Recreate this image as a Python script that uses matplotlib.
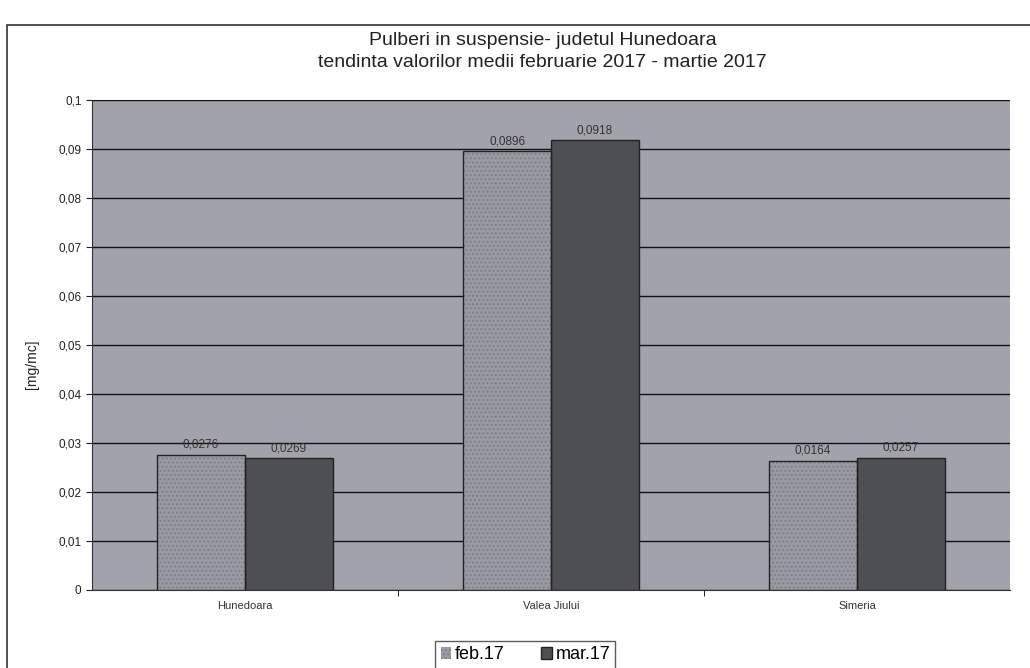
import matplotlib
matplotlib.use('Agg')
import matplotlib.pyplot as plt
import matplotlib.patches as patches
from matplotlib.ticker import FuncFormatter, MultipleLocator
import numpy as np

plt.rcParams['font.family'] = ['Liberation Sans', 'DejaVu Sans']

categories = ['Hunedoara', 'Valea Jiului', 'Simeria']
feb = [0.0276, 0.0896, 0.0264]
mar = [0.0269, 0.0918, 0.0270]
feb_labels = ['0,0276', '0,0896', '0,0164']
mar_labels = ['0,0269', '0,0918', '0,0257']
series_names = ['feb.17', 'mar.17']

fig = plt.figure(figsize=(10.3, 6.68), dpi=100)
ax = fig.add_axes([0.0893, 0.1168, 0.8913, 0.7335])

# outer chart frame
fig.patches.append(patches.Rectangle((0.0068, -0.01), 1.1, 0.9726, transform=fig.transFigure,
                                     fill=False, edgecolor='#333333', linewidth=1.2))

ax.set_facecolor('#a2a2ac')
x = np.arange(len(categories))
w = 0.287
# feb: dotted texture, then outline
ax.bar(x - w / 2, feb, w, color='#9a9aa4', edgecolor='#80808a', linewidth=0, zorder=3,
       hatch='....', label=series_names[0])
ax.bar(x - w / 2, feb, w, fill=False, edgecolor='#222222', linewidth=1, zorder=3.5)
ax.bar(x + w / 2, mar, w, color='#4e4e55', edgecolor='#222222', linewidth=1, zorder=3,
       label=series_names[1])

for i in range(len(categories)):
    ax.text(x[i] - w / 2, feb[i] + 0.0008, feb_labels[i], ha='center', va='bottom', fontsize=8.5, color='#333333', zorder=4)
    ax.text(x[i] + w / 2, mar[i] + 0.0008, mar_labels[i], ha='center', va='bottom', fontsize=8.5, color='#333333', zorder=4)

ax.set_ylim(0, 0.1)
ax.set_xlim(-0.5, 2.5)
ax.yaxis.set_major_locator(MultipleLocator(0.01))
ax.yaxis.set_major_formatter(FuncFormatter(lambda v, p: ('%g' % round(v, 3)).replace('.', ',')))
ax.grid(axis='y', color='#111111', linewidth=1, zorder=1)
ax.set_xticks(x)
ax.set_xticklabels(categories, fontsize=8, color='#333333')
ax.set_xticks([0.5, 1.5], minor=True)
ax.tick_params(axis='x', which='major', length=0, pad=8)
ax.tick_params(axis='x', which='minor', length=4)
ax.tick_params(axis='y', labelsize=8.5, length=4, colors='#222222')
for s in ['top', 'right']:
    ax.spines[s].set_visible(False)
ax.spines['left'].set_color('#333333')
ax.spines['bottom'].set_color('#333333')

fig.text(0.031, 0.454, '[mg/mc]', rotation=90, fontsize=10, ha='center', va='center', color='#222222')

fig.text(0.527, 0.940, 'Pulberi in suspensie- judetul Hunedoara', ha='center', va='center', fontsize=14, color='#222222')
fig.text(0.527, 0.907, 'tendinta valorilor medii februarie 2017 - martie 2017', ha='center', va='center', fontsize=14, color='#222222')

leg = fig.legend(loc='center', bbox_to_anchor=(0.51, 0.02), ncol=2, fontsize=13, frameon=True,
                 fancybox=False, edgecolor='#333333', handlelength=0.6, handleheight=0.6,
                 handletextpad=0.2, columnspacing=2.0, borderpad=0.3)

fig.savefig('out.png', dpi=100)
